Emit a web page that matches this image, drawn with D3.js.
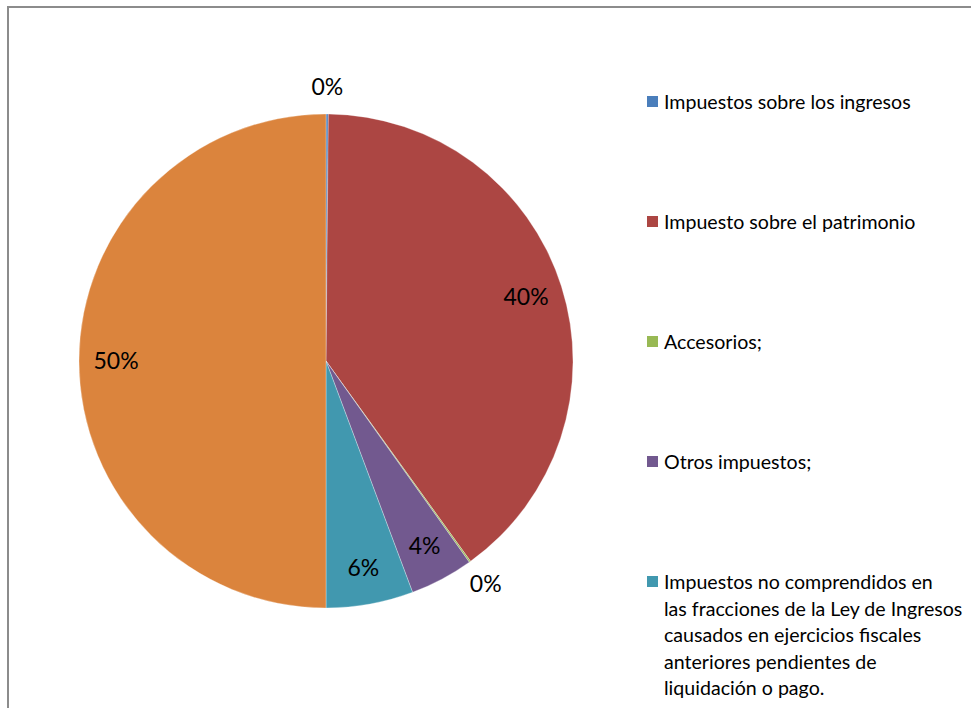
<!DOCTYPE html>
<html lang="es">
<head>
<meta charset="utf-8">
<title>Impuestos</title>
<script src="https://d3js.org/d3.v7.min.js"></script>
<style>
  body { margin: 0; background: #fff; }
  svg { display: block; font-family: Lato, "Open Sans", sans-serif; }
</style>
</head>
<body>
<script>
// datos
var categorias = [
  "Impuestos sobre los ingresos",
  "Impuesto sobre el patrimonio",
  "Accesorios;",
  "Otros impuestos;",
  "Impuestos no comprendidos en\nlas fracciones de la Ley de Ingresos\ncausados en ejercicios fiscales\nanteriores pendientes de\nliquidación o pago.",
  "Otros"
];
var valores = [0.15, 39.9, 0.1, 4.15, 5.7, 50.0];
var colores = ["#4A7EBB", "#AC4643", "#98B954", "#72598F", "#4198AF", "#DB843D"];
var enLeyenda = 5; // la sexta entrada queda fuera del recorte

var W = 971, H = 708;
var cx = 326, cy = 361, R = 247;

var svg = d3.select("body").append("svg")
  .attr("width", W)
  .attr("height", H);

// marco
svg.append("rect")
  .attr("x", 8).attr("y", 7)
  .attr("width", 1100).attr("height", 1100)
  .attr("fill", "#fff")
  .attr("stroke", "#8c8c8c")
  .attr("stroke-width", 2);

var total = d3.sum(valores);
var pie = d3.pie().sort(null).value(function(d){ return d; });
var arcos = pie(valores);
var arc = d3.arc().innerRadius(0).outerRadius(R);

var g = svg.append("g").attr("transform", "translate(" + cx + "," + cy + ")");

g.selectAll("path")
  .data(arcos)
  .enter()
  .append("path")
  .attr("d", arc)
  .attr("fill", function(d,i){ return colores[i]; })
  .attr("stroke", "#fff")
  .attr("stroke-opacity", 0.5)
  .attr("stroke-width", 0.6);

// etiquetas de porcentaje
var arcDentro = d3.arc().innerRadius(R * 0.85).outerRadius(R * 0.85);
var arcFuera = d3.arc().innerRadius(R * 1.11).outerRadius(R * 1.11);

g.selectAll("text.pct")
  .data(arcos)
  .enter()
  .append("text")
  .attr("class", "pct")
  .attr("transform", function(d){
    var p = (d.data / total < 0.01 ? arcFuera : arcDentro).centroid(d);
    return "translate(" + p[0] + "," + p[1] + ")";
  })
  .attr("text-anchor", "middle")
  .attr("dy", "0.35em")
  .attr("font-size", 23)
  .attr("fill", "#000")
  .text(function(d){ return Math.round(d.data / total * 100) + "%"; });

// leyenda
var yLey = d3.scaleLinear().domain([0, 4]).range([109, 589]);
var ley = svg.selectAll("g.ley")
  .data(categorias.slice(0, enLeyenda))
  .enter()
  .append("g")
  .attr("class", "ley")
  .attr("transform", function(d,i){ return "translate(647," + yLey(i) + ")"; });

ley.append("rect")
  .attr("x", 0).attr("y", -13)
  .attr("width", 11).attr("height", 11)
  .attr("fill", function(d,i){ return colores[i]; });

ley.append("text")
  .attr("x", 17)
  .attr("font-size", 19.6)
  .attr("fill", "#000")
  .each(function(d){
    var t = d3.select(this);
    d.split("\n").forEach(function(linea, k){
      t.append("tspan").attr("x", 17).attr("y", k * 26.5).text(linea);
    });
  });
</script>
</body>
</html>
